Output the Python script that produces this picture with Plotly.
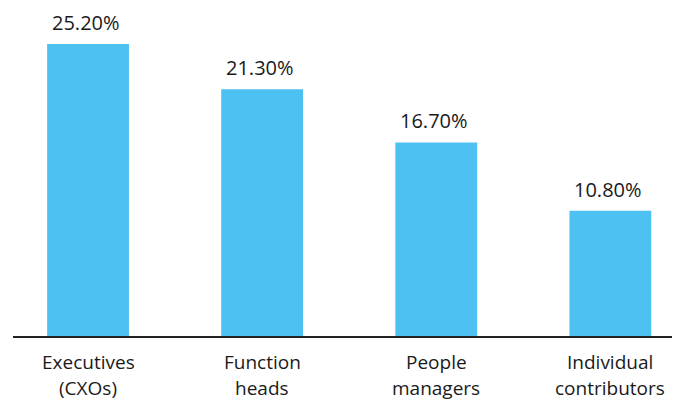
import plotly.graph_objects as go

cat_line1 = ["Executives", "Function", "People", "Individual"]
cat_line2 = ["(CXOs)", "heads", "managers", "contributors"]
values = [25.2, 21.3, 16.7, 10.8]
value_labels = ["25.20%", "21.30%", "16.70%", "10.80%"]

FONT = "Open Sans"
TXT = "#1a1a1a"
idx = list(range(len(values)))

fig = go.Figure()
fig.add_trace(go.Bar(
    x=idx, y=values, width=0.47,
    marker=dict(color="#4DC1F1", line=dict(width=0)),
    hoverinfo="skip",
))

for i, v, t in zip(idx, values, value_labels):
    fig.add_annotation(x=i, y=v, text=t, showarrow=False, xref="x", yref="y",
                       yanchor="bottom", yshift=6, xshift=-2,
                       font=dict(family=FONT, size=20, color=TXT))

for i, a, b in zip(idx, cat_line1, cat_line2):
    fig.add_annotation(x=i, y=0, text=a, showarrow=False, xref="x", yref="paper",
                       yanchor="middle", yshift=-26,
                       font=dict(family=FONT, size=19, color=TXT))
    fig.add_annotation(x=i, y=0, text=b, showarrow=False, xref="x", yref="paper",
                       yanchor="middle", yshift=-52,
                       font=dict(family=FONT, size=19, color=TXT))

fig.update_layout(
    width=680, height=403,
    margin=dict(l=13, r=8, t=40, b=67),
    paper_bgcolor="white", plot_bgcolor="white",
    showlegend=False,
    xaxis=dict(range=[-0.431, 3.354], showticklabels=False,
               showgrid=False, zeroline=False, showline=True, linecolor="#222",
               linewidth=1.5, ticks=""),
    yaxis=dict(range=[0, 25.54], visible=False, showgrid=False, zeroline=False),
)

fig.write_html("out.html")
